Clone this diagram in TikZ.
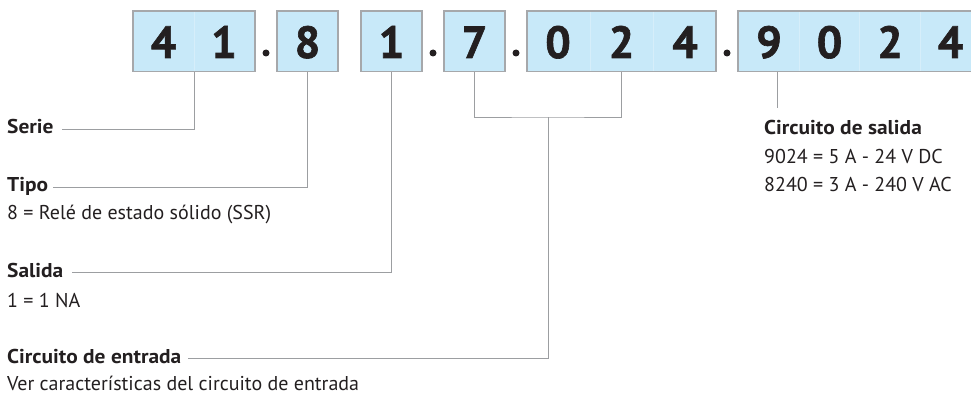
\documentclass[tikz,border=0pt]{standalone}
\usepackage{fontspec}
\setmainfont{PT Sans}
\newfontfamily\headfont{PT Sans}[FakeStretch=1.07]
\newfontfamily\digitfont{PT Sans}[FakeBold=1.4]
\begin{document}
\begin{tikzpicture}[x=1pt,y=-1pt,
  codebox/.style={draw=boxgray,line width=1.1pt,fill=boxblue,minimum height=60.7pt,inner sep=0pt,outer sep=0pt,anchor=north west},
  digit/.style={text=ink,font=\digitfont\fontsize{45}{45}\selectfont\bfseries,inner sep=0pt,anchor=base},
  conn/.style={draw=linegray,line width=1pt},
  divider/.style={draw=boxblue!75!white,line width=0.5pt},
  dotmark/.style={circle,fill=ink,minimum size=7pt,inner sep=0pt},
  headtxt/.style={text=ink,font=\headfont\fontsize{20}{24}\selectfont\bfseries,inner sep=0pt,anchor=base west},
  bodytxt/.style={text=ink,font=\fontsize{20}{24}\selectfont,inner sep=0pt,anchor=base west}]
\definecolor{boxblue}{HTML}{C8E9F9}
\definecolor{boxgray}{HTML}{A6A8AB}
\definecolor{linegray}{HTML}{9C9EA1}
\definecolor{ink}{HTML}{231F20}
\useasboundingbox (0,0) rectangle (971,396);
\clip (0,0) rectangle (971,396);
% boxes
\node[codebox,minimum width=122pt] (b41) at (133,11) {};
\node[codebox,minimum width=61pt] (b8) at (277,11) {};
\node[codebox,minimum width=61pt] (b1) at (361,11) {};
\node[codebox,minimum width=61pt] (b7) at (444,11) {};
\node[codebox,minimum width=189pt] (b024) at (527,11) {};
\node[codebox,minimum width=244pt] (b9024) at (738,11) {};
% faint cell dividers
\draw[divider] (194,12) -- (194,71);
\draw[divider] (590,12) -- (590,71);
\draw[divider] (653,12) -- (653,71);
\draw[divider] (799,12) -- (799,71);
\draw[divider] (859,12) -- (859,71);
\draw[divider] (920,12) -- (920,71);
% digits
\node[digit] (d4) at (163.5,58) {4};
\node[digit] (d1a) at (224,58) {1};
\node[digit] (d8) at (307.5,58) {8};
\node[digit] (d1b) at (391.5,58) {1};
\node[digit] (d7) at (474.5,58) {7};
\node[digit] (d0a) at (558,58) {0};
\node[digit] (d2a) at (621.5,58) {2};
\node[digit] (d4a) at (685,58) {4};
\node[digit] (d9) at (769,58) {9};
\node[digit] (d0b) at (829.5,58) {0};
\node[digit] (d2b) at (890,58) {2};
\node[digit] (d4b) at (950.5,58) {4};
% dots
\node[dotmark] (p1) at (266,53) {};
\node[dotmark] (p2) at (433,53) {};
\node[dotmark] (p3) at (516,53) {};
\node[dotmark] (p4) at (727,53) {};
% labels
\node[headtxt] (serie) at (7,133) {Serie};
\node[headtxt] (tipo) at (7,191) {Tipo};
\node[bodytxt] (tipod) at (7,219) {8 = Relé de estado sólido (SSR)};
\node[headtxt] (salida) at (7,277) {Salida};
\node[bodytxt] (salidad) at (7,307) {1 = 1 NA};
\node[headtxt] (entrada) at (7,363) {Circuito de entrada};
\node[bodytxt] (entradad) at (7,390) {Ver características del circuito de entrada};
\node[headtxt] (csal) at (764,134) {Circuito de salida};
\node[bodytxt] (csal1) at (764,163) {9024 = 5 A - 24 V DC};
\node[bodytxt] (csal2) at (764,191) {8240 = 3 A - 240 V AC};
% connector end points
\coordinate (serieL) at (62,129);
\coordinate (tipoL) at (53,187);
\coordinate (salidaL) at (72,272);
\coordinate (entL) at (188,358);
\coordinate (mid) at (548,117);
\coordinate (outB) at (777,108);
% connectors
\draw[conn] (serieL) -| (b41.south);
\draw[conn] (tipoL) -| (b8.south);
\draw[conn] (salidaL) -| (b1.south);
\draw[conn] (b7.south) |- (mid) -| (b024.south);
\draw[conn] (mid) |- (entL);
\draw[conn] (outB |- b9024.south) -- (outB);
\end{tikzpicture}
\end{document}
